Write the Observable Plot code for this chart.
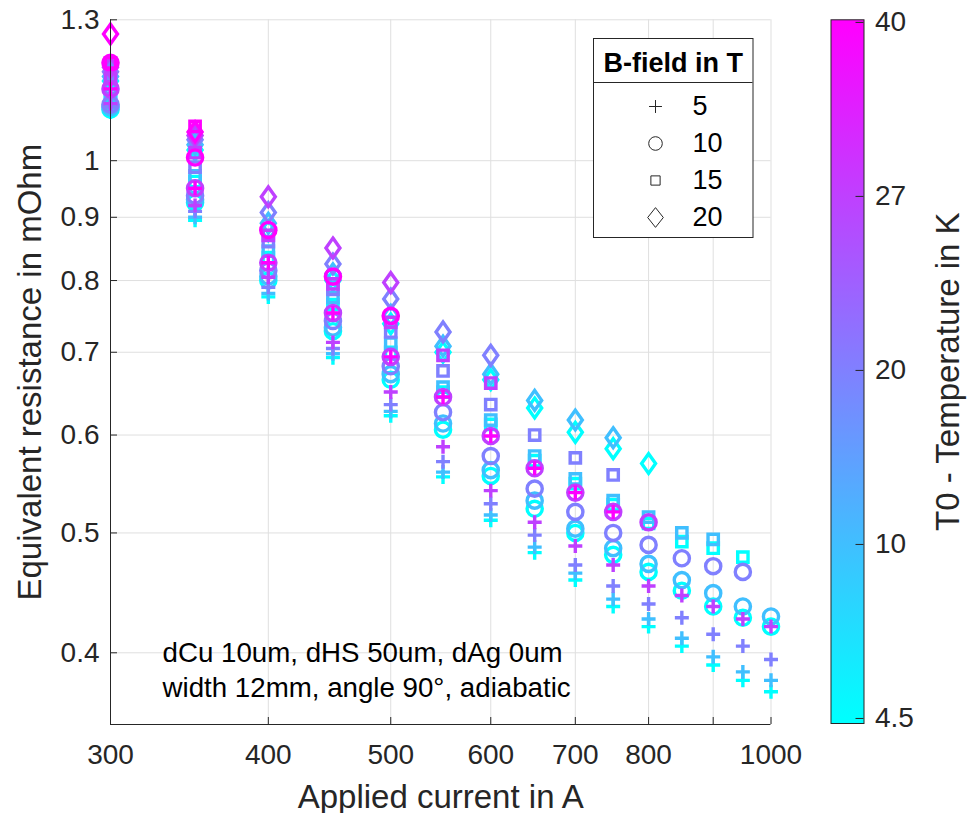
<!DOCTYPE html>
<html><head><meta charset="utf-8">
<script src="https://cdn.jsdelivr.net/npm/d3@7"></script>
<script src="https://cdn.jsdelivr.net/npm/@observablehq/plot@0.6"></script>
<style>
body{margin:0;background:#fff;}
#wrap{position:relative;width:971px;height:813px;overflow:hidden;}
#wrap svg{position:absolute;overflow:visible;}
</style></head><body><div id="wrap"></div>
<script>
// ---------- data ----------
const currents = [300,350,400,450,500,550,600,650,700,750,800,850,900,950,1000];
const temps = [4.5,10,20,27,40];
const fields = [5,10,15,20];

// B = 5 T (plus)
const plus_T4_5 = [1.095,0.895,0.776,0.693,0.622,0.555,0.512,0.482,0.458,0.436,0.420,0.405,0.391,0.380,0.372];
const plus_T10  = [1.100,0.900,0.781,0.698,0.627,0.560,0.517,0.487,0.464,0.442,0.426,0.411,0.397,0.386,0.380];
const plus_T20  = [1.105,0.910,0.790,0.705,0.635,0.571,0.528,0.498,0.471,0.453,0.438,0.427,0.414,0.405,0.395];
const plus_T27  = [1.112,0.920,0.805,0.713,0.650,0.587,0.541,0.510,0.488,0.471,0.453,0.445,0.436,0.426,0.420];
const plus_T40  = [1.143,0.950,0.827,0.753,0.694,0.644,0.599,0.564,0.539,0.520,null,null,null,null,null];
// B = 10 T (circle)
const circle_T4_5 = [1.100,0.925,0.800,0.728,0.665,0.606,0.556,0.523,0.500,0.480,0.465,0.449,0.436,0.427,0.420];
const circle_T10  = [1.105,0.930,0.806,0.733,0.672,0.613,0.562,0.531,0.504,0.486,0.472,0.458,0.447,0.436,0.428];
const circle_T20  = [1.110,0.937,0.815,0.742,0.682,0.626,0.577,0.543,0.520,0.500,0.489,0.477,0.470,0.465,null];
const circle_T27  = [1.143,0.950,0.827,0.753,0.694,0.644,0.599,0.564,0.539,0.520,0.510,null,null,null,null];
const circle_T40  = [1.200,1.006,0.879,0.806,0.749,null,null,null,null,null,null,null,null,null,null];
// B = 15 T (square)
const square_T4_5 = [1.120,0.962,0.835,0.765,0.700,0.650,0.612,0.572,0.548,0.527,0.509,0.492,0.486,0.478,null];
const square_T10  = [1.130,0.972,0.845,0.775,0.712,0.656,0.617,0.577,0.553,0.531,0.515,0.500,0.494,null,null];
const square_T20  = [1.145,0.988,0.860,0.787,0.727,0.676,0.635,0.600,0.575,0.557,null,null,null,null,null];
const square_T27  = [1.165,1.015,0.870,0.795,0.740,0.696,0.661,null,null,null,null,null,null,null,null];
const square_T40  = [1.200,1.066,null,null,null,null,null,null,null,null,null,null,null,null,null];
// B = 20 T (diamond)
const diamond_T4_5 = [1.160,1.020,0.878,0.800,0.738,0.700,0.665,0.631,0.603,0.585,0.569,null,null,null,null];
const diamond_T10  = [1.170,1.030,0.890,0.810,0.750,0.708,0.672,0.640,0.617,0.597,null,null,null,null,null];
const diamond_T20  = [1.180,1.040,0.908,0.825,0.773,0.727,0.696,null,null,null,null,null,null,null,null];
const diamond_T27  = [1.190,1.048,0.935,0.850,0.797,null,null,null,null,null,null,null,null,null,null];
const diamond_T40  = [1.266,1.055,null,null,null,null,null,null,null,null,null,null,null,null,null];

const xTicks = [300,400,500,600,700,800,900,1000];
const xTickLabels = ["300","400","500","600","700","800","","1000"];
const yTicks = [0.4,0.5,0.6,0.7,0.8,0.9,1,1.3];
const yTickLabels = ["0.4","0.5","0.6","0.7","0.8","0.9","1","1.3"];
const colorTickLabels = ["4.5","10","20","27","40"];
const tempColors = ["#00ffff","#40bfff","#8080ff","#bf40ff","#ff00ff"];
const xLabel = "Applied current in A";
const yLabel = "Equivalent resistance in mOhm";
const cLabel = "T0 - Temperature in K";
const legendTitle = "B-field in T";
const annotation = "dCu 10um, dHS 50um, dAg 0um\nwidth 12mm, angle 90°, adiabatic";

// ---------- table ----------
const seriesByField = {
  5:  [plus_T4_5, plus_T10, plus_T20, plus_T27, plus_T40],
  10: [circle_T4_5, circle_T10, circle_T20, circle_T27, circle_T40],
  15: [square_T4_5, square_T10, square_T20, square_T27, square_T40],
  20: [diamond_T4_5, diamond_T10, diamond_T20, diamond_T27, diamond_T40]
};
const rows = [];
temps.forEach((T, ti) => {
  fields.forEach(B => {
    seriesByField[B][ti].forEach((R, ci) => {
      if (R != null) rows.push({I: currents[ci], R, B, T});
    });
  });
});

// ---------- symbols ----------
function makeSymbols(p, sq, dw, dh) {
  const rr = size => Math.sqrt(size / Math.PI);
  return [
    {draw(c, s){ const r = rr(s)*p; c.moveTo(-r,0); c.lineTo(r,0); c.moveTo(0,-r); c.lineTo(0,r); }},
    {draw(c, s){ const r = rr(s); c.moveTo(r,0); c.arc(0,0,r,0,2*Math.PI); c.closePath(); }},
    {draw(c, s){ const r = rr(s)*sq; c.rect(-r,-r,2*r,2*r); }},
    {draw(c, s){ const r = rr(s); c.moveTo(0,-dh*r); c.lineTo(dw*r,0); c.lineTo(0,dh*r); c.lineTo(-dw*r,0); c.closePath(); }}
  ];
}
const mainSyms = makeSymbols(0.92, 0.68, 0.92, 1.3);
const legendSyms = makeSymbols(0.95, 0.68, 1.15, 1.45);

const FONT = '"Liberation Sans", Arial, Helvetica, sans-serif';
const INK = "#262626";
const GRID = "#dfdfdf";

// ---------- main plot ----------
const W = 971, H = 813;
const mL = 110, mR = 200.5, mT = 19.3, mB = 89;
const frameW = W - mL - mR, frameH = H - mT - mB;

const main = Plot.plot({
  width: W, height: H,
  marginLeft: mL, marginRight: mR, marginTop: mT, marginBottom: mB,
  style: {fontFamily: FONT, color: INK, background: "transparent", overflow: "visible"},
  x: {type: "log", domain: [300, 1000]},
  y: {type: "log", domain: [0.35, 1.3]},
  color: {type: "linear", domain: temps, range: tempColors},
  symbol: {domain: fields, range: mainSyms},
  marks: [
    Plot.gridX(xTicks, {stroke: GRID, strokeOpacity: 1, strokeWidth: 1}),
    Plot.gridY(yTicks, {stroke: GRID, strokeOpacity: 1, strokeWidth: 1}),
    Plot.tickX(xTicks, {x: d => d, insetTop: frameH - 7, stroke: INK, strokeWidth: 1}),
    Plot.tickY(yTicks, {y: d => d, insetRight: frameW - 7, stroke: INK, strokeWidth: 1}),
    Plot.axisX(xTicks, {tickSize: 0, tickPadding: 20, fontSize: 28, label: null,
      tickFormat: d => xTickLabels[xTicks.indexOf(d)]}),
    Plot.axisY(yTicks, {tickSize: 0, tickPadding: 11, fontSize: 28, label: null,
      tickFormat: d => yTickLabels[yTicks.indexOf(d)]}),
    Plot.dot(rows, {x: "I", y: "R", stroke: "T", symbol: "B", r: 7.6, strokeWidth: 3.4, fill: "none"}),
    Plot.ruleX([300], {stroke: INK, strokeWidth: 1}),
    Plot.ruleY([0.35], {stroke: INK, strokeWidth: 1}),
    Plot.text([annotation], {text: d => d, frameAnchor: "bottom-left", dx: 52, dy: -28,
      textAnchor: "start", lineAnchor: "bottom", lineHeight: 1.24, fontSize: 27.7, fill: "#000"}),
    Plot.text([xLabel], {text: d => d, frameAnchor: "bottom", dy: 83, textAnchor: "middle", lineAnchor: "bottom", fontSize: 33}),
    Plot.text([yLabel], {text: d => d, frameAnchor: "left", dx: -80, rotate: -90, textAnchor: "middle", lineAnchor: "middle", fontSize: 33})
  ]
});
main.style.left = "0px"; main.style.top = "0px";
document.getElementById("wrap").appendChild(main);

// ---------- colorbar ----------
const cscale = main.scale("color");
const idx = [0,1,2,3,4];
const cbLo = -0.029, cbHi = 4.015;
const cb = Plot.plot({
  width: 141, height: H,
  marginLeft: 0.5, marginRight: 107.5, marginTop: mT, marginBottom: 90,
  style: {fontFamily: FONT, color: INK, background: "transparent", overflow: "visible"},
  x: {domain: [0, 1], axis: null},
  y: {domain: [cbLo, cbHi], axis: null},
  marks: [
    Plot.frame({fill: "url(#cbgrad)", stroke: INK, strokeWidth: 1}),
    Plot.tickY(idx, {y: d => d, insetLeft: 25, stroke: INK, strokeWidth: 1}),
    Plot.axisY(idx, {anchor: "right", tickSize: 0, tickPadding: 11, fontSize: 28, label: null,
      tickFormat: d => colorTickLabels[d]}),
    Plot.text([cLabel], {text: d => d, frameAnchor: "right", dx: 84, rotate: -90, textAnchor: "middle", lineAnchor: "middle", fontSize: 33})
  ]
});
{
  const svg = d3.select(cb);
  const g = svg.insert("defs", ":first-child").append("linearGradient")
    .attr("id", "cbgrad").attr("x1", 0).attr("y1", 1).attr("x2", 0).attr("y2", 0);
  g.append("stop").attr("offset", 0).attr("stop-color", cscale.apply(temps[0]));
  temps.forEach((t, i) => {
    g.append("stop").attr("offset", (i - cbLo) / (cbHi - cbLo)).attr("stop-color", cscale.apply(t));
  });
  g.append("stop").attr("offset", 1).attr("stop-color", cscale.apply(temps[4]));
}
cb.style.left = "830px"; cb.style.top = "0px";
document.getElementById("wrap").appendChild(cb);

// ---------- legend ----------
const lg = Plot.plot({
  width: 159.5, height: 199,
  margin: 0,
  style: {fontFamily: FONT, color: INK, background: "transparent", overflow: "visible"},
  x: {domain: [0, 1], axis: null},
  y: {type: "point", domain: fields, range: [67, 179], padding: 0, axis: null},
  symbol: {domain: fields, range: legendSyms},
  marks: [
    Plot.frame({fill: "white", stroke: INK, strokeWidth: 1}),
    Plot.ruleY([fields[0]], {y: d => d, dy: -24, stroke: INK, strokeWidth: 1}),
    Plot.text([legendTitle], {text: d => d, frameAnchor: "top", dy: 25, textAnchor: "middle", lineAnchor: "middle",
      fontSize: 27, fontWeight: "bold", fill: "#000"}),
    Plot.dot(fields, {y: d => d, frameAnchor: "left", dx: 62, symbol: d => d, r: 6.8,
      stroke: INK, strokeWidth: 1, fill: "none"}),
    Plot.text(fields, {y: d => d, text: d => String(d), frameAnchor: "left", dx: 99,
      textAnchor: "start", lineAnchor: "middle", fontSize: 27, fill: "#000"})
  ]
});
lg.style.left = "593px"; lg.style.top = "38px";
document.getElementById("wrap").appendChild(lg);
</script>
</body></html>
